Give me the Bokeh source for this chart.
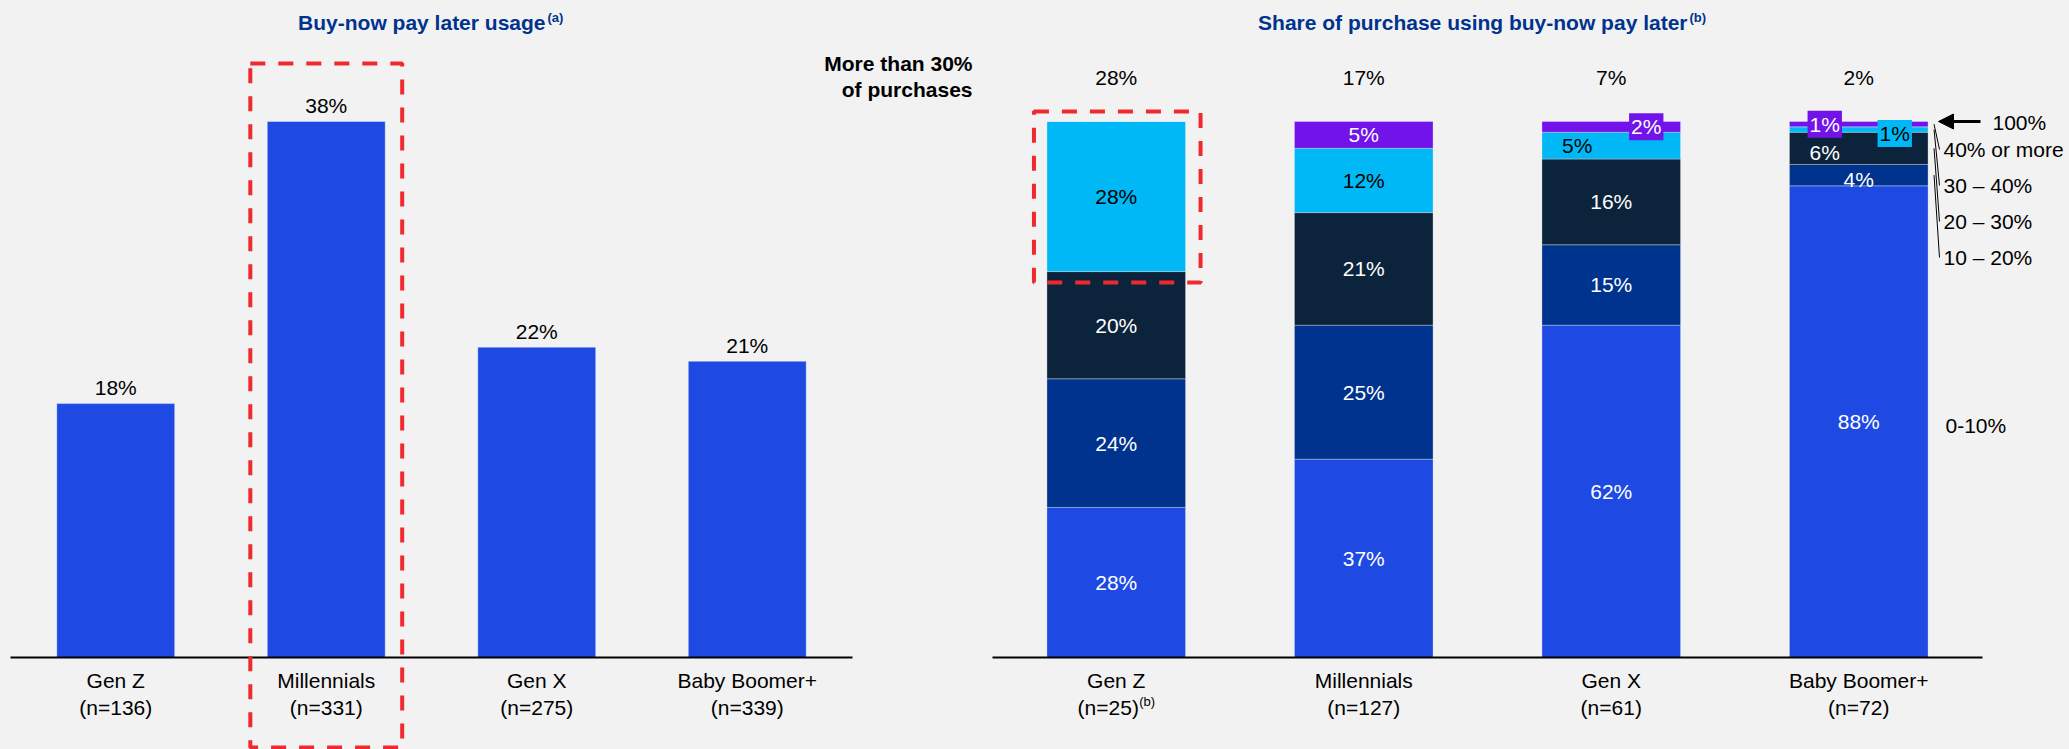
from bokeh.plotting import figure
from bokeh.layouts import row
from bokeh.models import ColumnDataSource, Range1d, Arrow, NormalHead
from bokeh.core.properties import value
from bokeh.embed import file_html
from bokeh.resources import INLINE

# ---------------- data ----------------
generations = ["Gen Z", "Millennials", "Gen X", "Baby Boomer+"]
usage_n = ["(n=136)", "(n=331)", "(n=275)", "(n=339)"]
usage_pct = [18, 38, 22, 21]

share_n = ["(n=25)", "(n=127)", "(n=61)", "(n=72)"]
share_n_note = ["(b)", "", "", ""]
bands = ["0-10%", "10 – 20%", "20 – 30%", "30 – 40%", "40% or more"]
share_0_10 = [28, 37, 62, 88]
share_10_20 = [24, 25, 15, 4]
share_20_30 = [20, 21, 16, 6]
share_30_40 = [28, 12, 5, 1]
share_40_plus = [0, 5, 2, 1]
more_than_30 = [28, 17, 7, 2]

# ---------------- style / layout ----------------
BG = "#F2F2F2"
BLUE = "#1E49E2"
SEG_COLORS = ["#1E49E2", "#00338D", "#0C233C", "#00B8F5", "#7213EA"]
SEG_TEXT = ["white", "white", "white", "black", "white"]
TITLE_BLUE = "#00338D"
RED = "#EE2A2F"
FONT = value("Liberation Sans")
FS = "21px"
SUP = "13px"

FIG_H = 749
BASE_PX = 657                 # figure top -> baseline
BELOW_PX = FIG_H - BASE_PX
L_PX = 536 / 38               # px per percentage point (left)
R_PX = 536 / 100              # px per percentage point (right)
L_W, L_SLOT, L_PADL, L_PADR = 980, 210.5, 10, 128
R_W, R_SLOT, R_PADL, R_PADR = 1089, 247.5, 12, 87
BAR_W = 0.56

idx = list(range(len(generations)))        # category positions on the scale
FIRST, LAST = idx[0] - 0.5, idx[-1] + 0.5  # outer edges of category slots


def txt(p, **kw):
    base = dict(text_font=FONT, text_font_size=FS, text_align="center",
                text_baseline="middle", text_color="black")
    base.update(kw)
    return p.text(**base)


def fig(width, slot, padl, padr, px):
    p = figure(width=width, height=FIG_H,
               x_range=Range1d(FIRST - padl / slot, LAST + padr / slot),
               y_range=Range1d(-BELOW_PX / px, BASE_PX / px),
               output_backend="svg", toolbar_location=None,
               x_axis_location=None, y_axis_location=None, min_border=0,
               background_fill_color=BG, border_fill_color=BG,
               outline_line_color=None)
    p.grid.visible = False
    return p


# ================= left panel =================
p1 = fig(L_W, L_SLOT, L_PADL, L_PADR, L_PX)

src_l = ColumnDataSource(dict(x=idx, gen=generations, pct=usage_pct,
                              label=[f"{v}%" for v in usage_pct], n=usage_n))
p1.vbar(x="x", top="pct", bottom=0, width=BAR_W, source=src_l,
        fill_color=BLUE, line_color="white", line_alpha=0.35, line_width=1)
txt(p1, x="x", y="pct", text="label", y_offset=-16, source=src_l)
p1.segment(x0=[FIRST], x1=[LAST], y0=[0], y1=[0],
           line_color="black", line_width=2)
txt(p1, x="x", y=0, text="gen", y_offset=23, source=src_l)
txt(p1, x="x", y=0, text="n", y_offset=50, source=src_l)

# highlight box around Millennials
mi = generations.index("Millennials")
hx = 0.5 * BAR_W + 17 / L_SLOT
p1.quad(left=[mi - hx], right=[mi + hx],
        top=[max(usage_pct) + 58 / L_PX], bottom=[-(BELOW_PX - 2) / L_PX],
        fill_color=None, line_color=RED, line_width=4, line_dash="15 13")

# title
mid = (FIRST + LAST) / 2
ymax_l = BASE_PX / L_PX
txt(p1, x=[mid], y=[ymax_l], text=["Buy-now pay later usage"],
    x_offset=114, y_offset=22, text_align="right", text_font_style="bold",
    text_color=TITLE_BLUE)
txt(p1, x=[mid], y=[ymax_l], text=["(a)"],
    x_offset=116, y_offset=17, text_align="left", text_font_style="bold",
    text_font_size=SUP, text_color=TITLE_BLUE)

# header of the right-hand totals row
ref100 = 100 * R_PX / L_PX  # height of the right panel's 100% on the left scale
txt(p1, x=[LAST, LAST], y=[ref100, ref100],
    text=["More than 30%", "of purchases"], x_offset=120, y_offset=[-58, -32],
    text_align="right", text_font_style="bold")

# ================= right panel =================
p2 = fig(R_W, R_SLOT, R_PADL, R_PADR, R_PX)

cols = [share_0_10, share_10_20, share_20_30, share_30_40, share_40_plus]
keys = ["b0", "b1", "b2", "b3", "b4"]
src_r = ColumnDataSource(dict(x=idx, gen=generations, n=share_n,
                              note=share_n_note,
                              n_xo=[-8 if s else 0 for s in share_n_note],
                              top=[f"{v}%" for v in more_than_30],
                              **{k: c for k, c in zip(keys, cols)}))
p2.vbar_stack(keys, x="x", width=BAR_W, source=src_r,
              fill_color=SEG_COLORS, line_color="white", line_alpha=0.3,
              line_width=1)

# label placement tweaks for thin segments: (x px, y px, box colour)
tweak = {("Gen X", 4): (35, 0, SEG_COLORS[4]), ("Gen X", 3): (-34, 0, None),
         ("Baby Boomer+", 4): (-34, 0, SEG_COLORS[4]),
         ("Baby Boomer+", 3): (36, 4, SEG_COLORS[3]),
         ("Baby Boomer+", 2): (-34, 4, None), ("Baby Boomer+", 1): (0, 4, None)}
plain = dict(x=[], y=[], t=[], c=[], xo=[], yo=[])
boxed = dict(x=[], y=[], t=[], c=[], xo=[], yo=[], bg=[])
for i, g in enumerate(generations):
    cum = 0
    for j, col in enumerate(cols):
        v = col[i]
        if v > 0:
            xo, yo, bg = tweak.get((g, j), (0, 0, None))
            d = boxed if bg else plain
            d["x"].append(idx[i]); d["y"].append(cum + v / 2)
            d["t"].append(f"{v}%"); d["c"].append(SEG_TEXT[j])
            d["xo"].append(xo); d["yo"].append(yo)
            if bg:
                d["bg"].append(bg)
        cum += v
txt(p2, x="x", y="y", text="t", text_color="c", x_offset="xo", y_offset="yo",
    source=ColumnDataSource(plain))
txt(p2, x="x", y="y", text="t", text_color="c", x_offset="xo", y_offset="yo",
    background_fill_color="bg", padding=2, source=ColumnDataSource(boxed))

# baseline + category labels
p2.segment(x0=[FIRST], x1=[LAST], y0=[0], y1=[0],
           line_color="black", line_width=2)
txt(p2, x="x", y=0, text="gen", y_offset=23, source=src_r)
txt(p2, x="x", y=0, text="n", y_offset=50, x_offset="n_xo", source=src_r)
txt(p2, x="x", y=0, text="note", y_offset=44, x_offset=23, text_align="left",
    text_font_size=SUP, source=src_r)

# totals above bars ("more than 30%")
txt(p2, x="x", y=100, text="top", y_offset=-44, source=src_r)

# highlight box around Gen Z 30-40%
gz = generations.index("Gen Z")
gz_bottom = share_0_10[gz] + share_10_20[gz] + share_20_30[gz]
gz_top = gz_bottom + share_30_40[gz] + share_40_plus[gz]
p2.quad(left=[gz - 0.5 * BAR_W - 13 / R_SLOT],
        right=[gz + 0.5 * BAR_W + 15 / R_SLOT],
        top=[gz_top + 10 / R_PX], bottom=[gz_bottom - 11 / R_PX],
        fill_color=None, line_color=RED, line_width=4, line_dash="15 13")

# title
ymax_r = BASE_PX / R_PX
txt(p2, x=[mid], y=[ymax_r], text=["Share of purchase using buy-now pay later"],
    x_offset=200, y_offset=22, text_align="right", text_font_style="bold",
    text_color=TITLE_BLUE)
txt(p2, x=[mid], y=[ymax_r], text=["(b)"],
    x_offset=202, y_offset=17, text_align="left", text_font_style="bold",
    text_font_size=SUP, text_color=TITLE_BLUE)

# legend beside the last bar
li = idx[-1]
p2.add_layout(Arrow(end=NormalHead(size=15, fill_color="black", line_color="black"),
                    x_start=LAST - 2 / R_SLOT, y_start=100,
                    x_end=LAST - 44 / R_SLOT, y_end=100,
                    line_color="black", line_width=3))
txt(p2, x=[LAST], y=[100], text=["100%"], x_offset=10, y_offset=1,
    text_align="left")

leg_labels = bands[:0:-1]
leg_yoff = [28 + 36 * k for k in range(len(leg_labels))]
txt(p2, x=[LAST] * len(leg_labels), y=[100] * len(leg_labels),
    text=leg_labels, x_offset=-39, y_offset=leg_yoff, text_align="left")
txt(p2, x=[LAST], y=[share_0_10[li] / 2], text=[bands[0]],
    x_offset=-37, y_offset=4, text_align="left")

# leader lines from segments to legend labels
mids = []
c = 0
for col in cols:
    mids.append(c + col[li] / 2)
    c += col[li]
seg_mids = mids[:0:-1]
x0 = [li + 0.5 * BAR_W + 6 / R_SLOT] * len(seg_mids)
x1 = [LAST - 43 / R_SLOT] * len(seg_mids)
y1 = [100 - yo / R_PX for yo in leg_yoff]
p2.segment(x0=x0, y0=seg_mids, x1=x1, y1=y1, line_color="black", line_width=1)

layout = row(p1, p2, spacing=0)
html = file_html(layout, INLINE)
html = html.replace("</head>",
                    f"<style>html,body{{background-color:{BG};}}</style></head>", 1)
open("out.html", "w").write(html)
